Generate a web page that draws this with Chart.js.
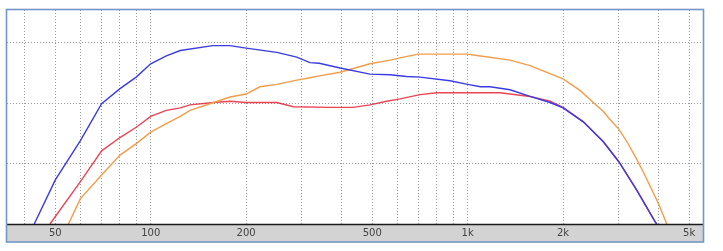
<!DOCTYPE html>
<html>
<head>
<meta charset="utf-8">
<script src="https://cdn.jsdelivr.net/npm/chart.js@4/dist/chart.umd.min.js"></script>
<style>
  html,body{margin:0;padding:0;background:#fff;}
  #wrap{width:723px;height:251px;position:relative;}
</style>
</head>
<body>
<div id="wrap"><canvas id="c" width="723" height="251"></canvas></div>
<script>
// ---- data ----
const gridFreqs = [40,50,60,70,80,90,100,200,300,400,500,600,700,800,900,1000,2000,3000,4000,5000];
const labelFreqs = [50,100,200,500,1000,2000,5000];
const labelTexts = ["50","100","200","500","1k","2k","5k"];
const yGrid = [0,10,20,30];

const blueFreq = [42.9,50,60,70,80,90,100,112,124,157,178,200,250,289,318,340,396,492,569,642,708,880,1000,1098,1177,1361,1574,1820,2000,2318,2681,3000,3417,3903,3950];
const blueVal  = [0,7.3,13.8,19.9,22.4,24.3,26.5,27.8,28.7,29.5,29.5,29.1,28.4,27.6,26.7,26.6,25.8,24.8,24.7,24.4,24.3,23.7,23.1,22.7,22.7,22.2,21.1,20.1,19.2,16.9,13.6,10.3,5.6,0.4,0];

const redFreq = [48.1,60,70,80,90,100,112,124,133,158,178,200,250,282,368,435,492,555,612,708,799,1266,1574,1820,2000,2318,2681,3000,3417,3903,3950];
const redVal  = [0,7.0,12.1,14.3,16.0,17.8,18.8,19.2,19.7,20.1,20.3,20.1,20.1,19.4,19.3,19.3,19.7,20.3,20.7,21.4,21.7,21.7,21.1,20.3,19.3,16.9,13.6,10.3,5.6,0.4,0];

const orangeFreq = [55,60,70,80,90,100,112,124,133,158,178,200,221,250,289,318,340,396,492,569,627,699,994,1098,1361,1574,2000,2262,2493,2681,2800,3000,3200,3417,3600,4000,4250];
const orangeVal  = [0,4.2,8.1,11.4,13.3,15.2,16.6,17.8,18.8,20.1,21.0,21.5,22.7,23.1,23.8,24.2,24.5,25.1,26.5,27.1,27.6,28.1,28.1,27.8,27.1,26.2,24.0,22.1,20.1,18.6,17.4,15.7,13.4,10.7,8.4,3.4,0];

const pts = (fs, vs) => fs.map((f, i) => ({x: f, y: vs[i]}));
const labelMap = {};
labelFreqs.forEach((f, i) => labelMap[f] = labelTexts[i]);

const framePlugin = {
  id: 'frame',
  beforeDraw(chart) {
    const {ctx, chartArea: a} = chart;
    ctx.save();
    ctx.fillStyle = '#ffffff';
    ctx.fillRect(0, 0, chart.width, chart.height);
    ctx.fillStyle = '#d3d3d3';
    ctx.fillRect(a.left, a.bottom, a.right - a.left, 242 - a.bottom);
    ctx.restore();
  },
  afterDraw(chart) {
    const {ctx, chartArea: a} = chart;
    ctx.save();
    ctx.strokeStyle = '#1a1a1a';
    ctx.lineWidth = 1.5;
    ctx.beginPath();
    ctx.moveTo(a.left, a.bottom + 0.5);
    ctx.lineTo(a.right, a.bottom + 0.5);
    ctx.stroke();
    ctx.strokeStyle = '#7396c6';
    ctx.lineWidth = 1.6;
    ctx.strokeRect(a.left - 0.5, a.top - 0.5, a.right - a.left + 1, 242.5 - a.top);
    ctx.restore();
  }
};

const lineStyle = {showLine: true, borderWidth: 1.4, pointRadius: 0, tension: 0};

new Chart(document.getElementById('c'), {
  type: 'scatter',
  data: {
    datasets: [
      Object.assign({data: pts(blueFreq, blueVal), borderColor: '#3b3be3'}, lineStyle),
      Object.assign({data: pts(orangeFreq, orangeVal), borderColor: '#f59c4a'}, lineStyle),
      Object.assign({data: pts(redFreq, redVal), borderColor: 'rgba(228,28,48,0.82)'}, lineStyle)
    ]
  },
  options: {
    responsive: false,
    animation: false,
    events: [],
    layout: {padding: {left: 7, right: 20, top: 10, bottom: 9}},
    plugins: {legend: {display: false}, tooltip: {enabled: false}},
    scales: {
      x: {
        type: 'logarithmic',
        min: 35.2,
        max: 5530,
        afterBuildTicks: s => { s.ticks = gridFreqs.map(v => ({value: v})); },
        afterFit: s => { s.height = 18; },
        ticks: {
          autoSkip: false, maxRotation: 0, padding: 3,
          color: '#444', font: {family: 'DejaVu Sans', size: 10},
          callback: v => labelMap[v] || ''
        },
        grid: {color: '#9a9a9a', lineWidth: 1, drawTicks: false},
        border: {display: false, dash: [1, 2]}
      },
      y: {
        type: 'linear',
        min: 0,
        max: 35.4,
        afterBuildTicks: s => { s.ticks = yGrid.map(v => ({value: v})); },
        afterFit: s => { s.width = 0; },
        ticks: {display: false},
        grid: {color: '#9a9a9a', lineWidth: 1, drawTicks: false},
        border: {display: false, dash: [1, 2]}
      }
    }
  },
  plugins: [framePlugin]
});
</script>
</body>
</html>
